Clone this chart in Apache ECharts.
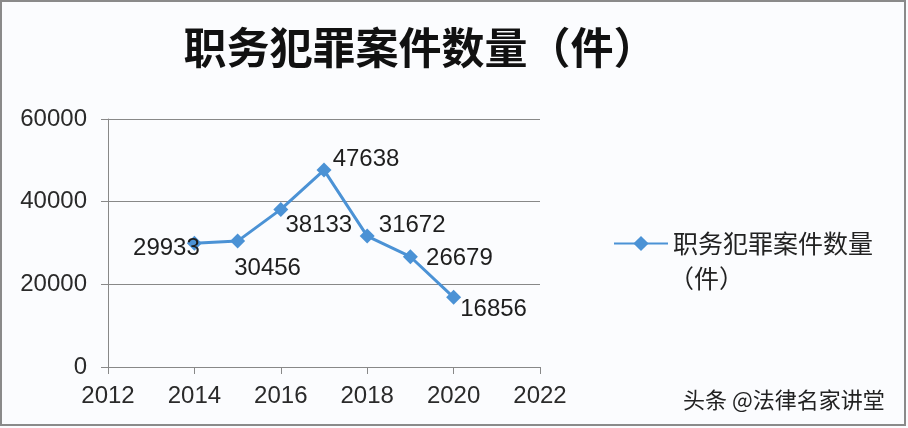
<!DOCTYPE html>
<html><head><meta charset="utf-8">
<script src="https://cdn.jsdelivr.net/npm/echarts@6/dist/echarts.min.js"></script>
<style>html,body{margin:0;padding:0;background:#fbfcfe}#c{width:908px;height:428px}</style>
</head><body><div id="c"></div>
<script>
const years = [2014, 2015, 2016, 2017, 2018, 2019, 2020];
const cases = [29933, 30456, 38133, 47638, 31672, 26679, 16856];
const seriesName = '职务犯罪案件数量（件）';
const titleText = '职务犯罪案件数量（件）';
const legendLine1 = '职务犯罪案件数量';
const legendLine2 = '（件）';
const watermark = '头条 @法律名家讲堂';
// label offsets (style only)
const labelOffsets = [[-28, 5], [30, 27], [38, 16], [42, -11], [45, -11], [49, 2], [40, 12]];

const chart = echarts.init(document.getElementById('c'));
const axisFont = {fontFamily: 'Liberation Sans, Arial, sans-serif', fontSize: 24, color: '#2a2a2a'};
chart.setOption({
  backgroundColor: '#fbfcfe',
  animation: false,
  title: {
    text: titleText, left: 415, top: 21, textAlign: 'center',
    textStyle: {fontFamily: 'Noto Sans CJK SC', fontWeight: 'bold', fontSize: 43, color: '#111'}
  },
  legend: {
    left: 608, top: 226, itemWidth: 54, itemHeight: 19, itemGap: 0,
    formatter: () => legendLine1,
    textStyle: {fontFamily: 'Noto Sans CJK SC', fontSize: 25, color: '#222'}
  },
  grid: {left: 108, right: 368, top: 119, bottom: 61},
  xAxis: {
    type: 'value', min: 2012, max: 2022, interval: 2,
    axisLine: {show: true, lineStyle: {color: '#888', width: 1}},
    axisTick: {show: true, length: 7, lineStyle: {color: '#888'}},
    splitLine: {show: false},
    axisLabel: Object.assign({margin: 17, formatter: v => String(v)}, axisFont)
  },
  yAxis: {
    type: 'value', min: 0, max: 60000, interval: 20000,
    axisLine: {show: true, lineStyle: {color: '#888', width: 1}},
    axisTick: {show: true, length: 7, lineStyle: {color: '#888'}},
    splitLine: {show: true, lineStyle: {color: '#888', width: 1}},
    axisLabel: Object.assign({margin: 21, formatter: v => String(v)}, axisFont)
  },
  series: [{
    name: seriesName, type: 'line',
    data: years.map((y, i) => ({
      value: [y, cases[i]],
      label: {offset: labelOffsets[i]}
    })),
    symbol: 'diamond', symbolSize: 15,
    lineStyle: {color: '#4b92d5', width: 3},
    itemStyle: {color: '#4b92d5'},
    label: {show: true, position: 'inside', formatter: p => String(p.value[1]),
      fontFamily: 'Liberation Sans, Arial, sans-serif', fontSize: 24, color: '#1e1e1e'}
  }],
  graphic: [
    {type: 'rect', shape: {x: 1, y: 1, width: 904, height: 424}, style: {fill: 'none', stroke: '#8a8a8a', lineWidth: 2}, silent: true},
    {type: 'text', left: 669, top: 266, style: {text: legendLine2, fontFamily: 'Noto Sans CJK SC', fontSize: 25, fill: '#222'}},
    {type: 'text', left: 683, top: 389, style: {text: watermark, fontFamily: 'Noto Sans CJK SC', fontSize: 22, fill: '#222',
      textShadowColor: '#bbb', textShadowOffsetX: 1, textShadowOffsetY: 1, textShadowBlur: 0}}
  ]
});
</script></body></html>
